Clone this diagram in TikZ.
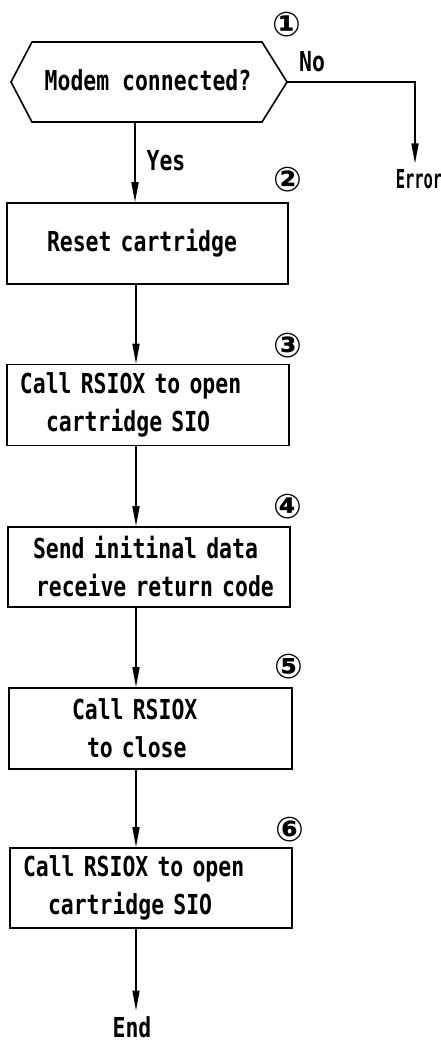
\documentclass[tikz,border=0pt]{standalone}
\usepackage{fontspec}
\newfontfamily\flowfont{DejaVu Sans Mono}[FakeStretch=0.78]
\newfontfamily\markfont{DejaVu Sans}
\usetikzlibrary{arrows.meta}

\begin{document}
\begin{tikzpicture}[x=1pt, y=-1pt, line width=1.6pt,
  txt/.style={font={\flowfont\bfseries\fontsize{27.5pt}{38pt}\selectfont}, inner sep=0pt},
  stepnum/.style={font={\markfont\bfseries\fontsize{34pt}{34pt}\selectfont}, inner sep=0pt},
  procbox/.style={draw, txt, align=left, text width=#1, inner xsep=0pt, inner ysep=0pt,
                  minimum height=81pt},
  flow/.style={-{Triangle[length=20pt, width=7pt]}}
]
  % page
  \fill[white] (0,0) rectangle (441,1043);
  \useasboundingbox (0,0) rectangle (441,1043);

  % x position of the main vertical flow line
  \coordinate (spine) at (136,0);
  \coordinate (errx) at (415,0);

  % decision: hexagon
  \coordinate (qW) at (11,82);
  \coordinate (qE) at (287,82);
  \coordinate (qS) at (135,122);
  \draw (qW) -- (32,42) -- (262,42) -- (qE) -- (262,122) -- (32,122) -- cycle;
  \node[txt] (q) at (148,80) {Modem connected?};

  % process boxes
  \node[procbox=281pt] (b2) at (147.5,243.5) {\hspace*{40pt}Reset cartridge};
  \node[procbox=282pt] (b3) at (148,405)
    {\hspace*{13pt}Call RSIOX to open\\\hspace*{39pt}cartridge SIO};
  \node[procbox=282pt, minimum height=80pt] (b4) at (149,567)
    {\hspace*{25pt}Send initinal data\\\hspace*{28pt}receive return code};
  \node[procbox=283pt] (b5) at (150.5,728.5)
    {\hspace*{63pt}Call RSIOX\\\hspace*{78pt}to close};
  \node[procbox=282pt, minimum height=80pt] (b6) at (151,888)
    {\hspace*{13pt}Call RSIOX to open\\\hspace*{38pt}cartridge SIO};

  % terminal texts
  \node[txt] (err) at (419,179) {\scalebox{0.72}[0.95]{Error}};
  \node[txt] (endn) at (132,1027) {End};

  % branch labels
  \node[txt] (yes) at (166,161) {Yes};
  \node[txt] (no) at (312,62) {No};

  % step numbers
  \node[stepnum] (m1) at (287,25) {①};
  \node[stepnum] (m2) at (288,180) {②};
  \node[stepnum] (m3) at (288,346) {③};
  \node[stepnum] (m4) at (288,507) {④};
  \node[stepnum] (m5) at (289,667) {⑤};
  \node[stepnum] (m6) at (290,830) {⑥};

  % connectors
  \draw[flow] (qE) -| ([yshift=5pt]err.north -| errx);
  \draw[flow] (qS) -- (b2.north -| qS);
  \draw[flow] (b2.south -| spine) -- (b3.north -| spine);
  \draw[flow] (b3.south -| spine) -- (b4.north -| spine);
  \draw[flow] (b4.south -| spine) -- (b5.north -| spine);
  \draw[flow] (b5.south -| spine) -- (b6.north -| spine);
  \draw[flow] (b6.south -| spine) -- ([yshift=5pt]endn.north -| spine);
\end{tikzpicture}
\end{document}
